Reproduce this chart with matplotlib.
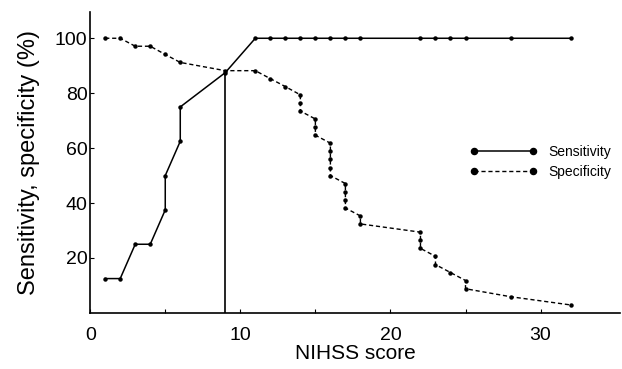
import matplotlib
matplotlib.use('Agg')
from matplotlib import pyplot as plt
import numpy as np

# NIHSS cut-off scores and the resulting sensitivity / specificity (%)
sens_x = [1, 2, 3, 4, 5, 5, 6, 6, 9, 11, 12, 13, 14, 15, 16, 17, 18,
          22, 23, 24, 25, 28, 32]
sens_y = [12.5, 12.5, 25, 25, 37.5, 50, 62.5, 75, 87.5, 100, 100, 100, 100,
          100, 100, 100, 100, 100, 100, 100, 100, 100, 100]

spec_x = [1, 2, 3, 4, 5, 6, 9, 11, 12, 13, 14, 14, 14, 15, 15, 15,
          16, 16, 16, 16, 16, 17, 17, 17, 17, 18, 18, 22, 22, 22,
          23, 23, 24, 25, 25, 28, 32]
spec_y = [100, 100, 97.1, 97.1, 94.1, 91.2, 88.2, 88.2, 85.3, 82.4, 79.4, 76.5,
          73.5, 70.6, 67.6, 64.7, 61.8, 58.8, 55.9, 52.9, 50.0, 47.1, 44.1,
          41.2, 38.2, 35.3, 32.4, 29.4, 26.5, 23.5, 20.6, 17.6, 14.7, 11.8,
          8.8, 5.9, 2.9]

cutoff = 9
cutoff_level = 88

xticks = [0, 10, 20, 30]
yticks = [20, 40, 60, 80, 100]

plt.rcParams['font.family'] = ['Liberation Sans', 'DejaVu Sans']

fig = plt.figure(figsize=(6.22, 3.69), dpi=100)
ax = fig.add_axes([0.145, 0.152, 0.852, 0.815])

ax.plot(sens_x, sens_y, color='black', lw=1.1, ls='-', marker='o', ms=2.2,
        label='Sensitivity')
ax.plot(spec_x, spec_y, color='black', lw=1.0, ls=(0, (3, 2)), marker='o',
        ms=2.2, label='Specificity')
ax.vlines(cutoff, 0, cutoff_level, color='black', lw=1.2)

ax.set_xlim(0, 35.3)
ax.set_ylim(0, 109.5)
ax.set_xticks(xticks)
ax.set_xticks([5, 15, 25], minor=True)
ax.set_yticks(yticks)
ax.tick_params(axis='both', which='both', direction='in', length=3,
               labelsize=14, width=0.8)
ax.tick_params(axis='x', which='major', pad=10)
ax.tick_params(axis='y', which='major', pad=2)
ax.spines['top'].set_visible(False)
ax.spines['right'].set_visible(False)
ax.spines['left'].set_linewidth(1.2)
ax.spines['bottom'].set_linewidth(1.2)

ax.set_xlabel('NIHSS score', fontsize=15, labelpad=0)
ax.set_ylabel('Sensitivity, specificity (%)', fontsize=17)
ax.yaxis.set_label_coords(-0.094, 0.5)

ax.legend(loc='center left', bbox_to_anchor=(0.717, 0.502), frameon=False,
          fontsize=10, numpoints=2, markerscale=2, handlelength=4.8,
          labelspacing=0.45, handletextpad=0.8, borderpad=0,
          borderaxespad=0)

plt.savefig('out.png', dpi=100)
plt.close()
